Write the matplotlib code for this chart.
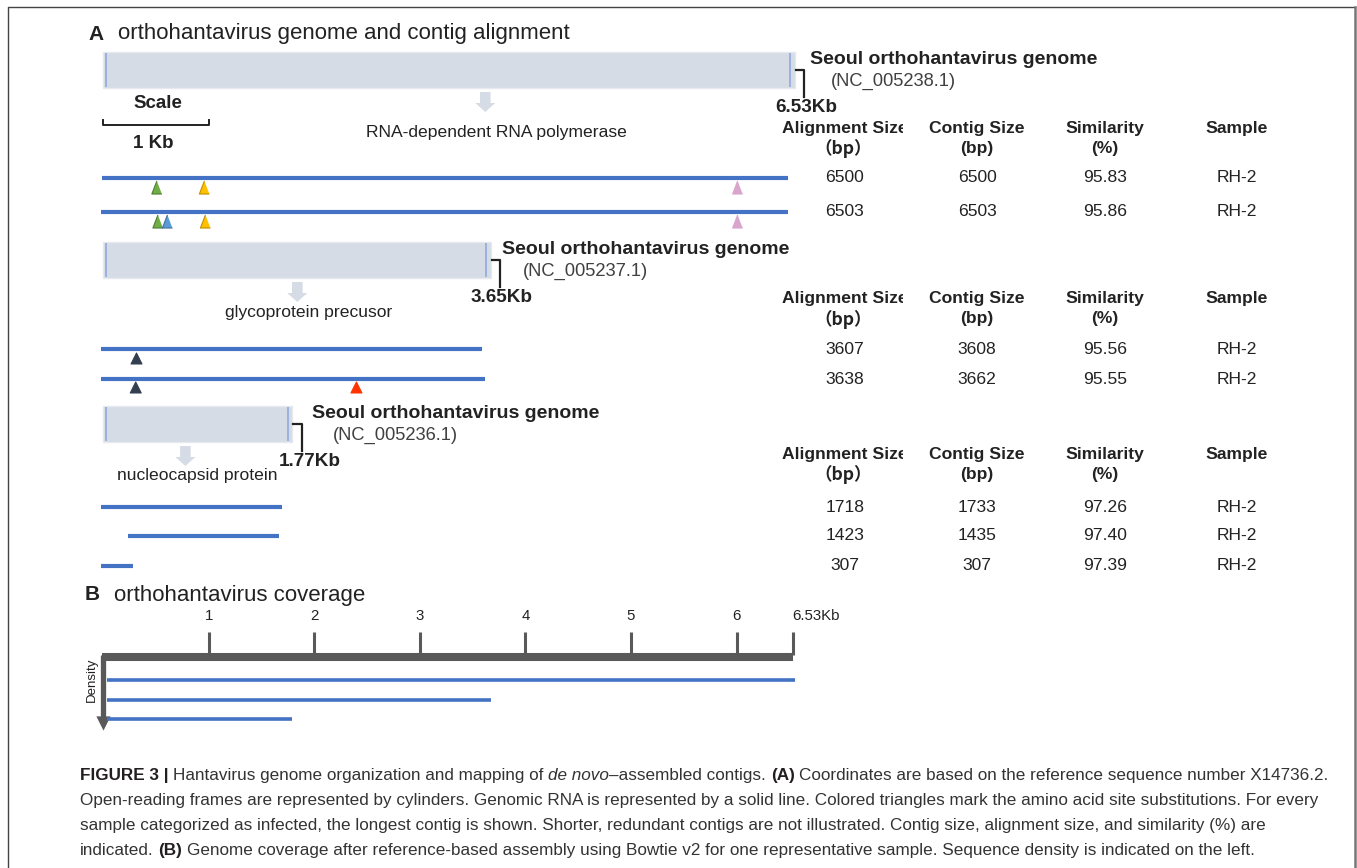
import matplotlib
matplotlib.use("Agg")
import matplotlib.pyplot as plt
from matplotlib.lines import Line2D

plt.rcParams['font.family'] = ['Liberation Sans', 'DejaVu Sans']

W, H = 1357, 868

# genome segments (L, M, S)
genome_kb = [6.53, 3.65, 1.77]
genome_names = ["Seoul orthohantavirus genome"] * 3
accessions = ["NC_005238.1", "NC_005237.1", "NC_005236.1"]
orf_names = ["RNA-dependent RNA polymerase", "glycoprotein precusor", "nucleocapsid protein"]
orf_arrow_kb = [3.62, 1.84, 0.78]

# contigs per segment
contig_start_kb = [[-0.01, -0.02], [-0.02, -0.02], [-0.02, 0.24, -0.02]]
align_size = [[6500, 6503], [3607, 3638], [1718, 1423, 307]]
contig_size = [[6500, 6503], [3608, 3662], [1733, 1435, 307]]
similarity = [[95.83, 95.86], [95.56, 95.55], [97.26, 97.40, 97.39]]
sample = [["RH-2", "RH-2"], ["RH-2", "RH-2"], ["RH-2", "RH-2", "RH-2"]]

# amino acid substitutions on each contig (kb position, colour key)
subst_kb = [[[0.51, 0.96, 6.01], [0.52, 0.61, 0.97, 6.01]],
            [[0.31], [0.31, 2.40]],
            [[], [], []]]
subst_key = [[["green", "yellow", "pink"], ["green", "blue", "yellow", "pink"]],
             [["dark"], ["dark", "red"]],
             [[], [], []]]

# coverage (panel B)
coverage_end_kb = [6.53, 3.65, 1.77]
coverage_ticks = [1, 2, 3, 4, 5, 6, 6.53]
coverage_tick_labels = ["1", "2", "3", "4", "5", "6", "6.53Kb"]

table_cols = ["Alignment Size", "Contig Size", "Similarity", "Sample"]
table_units = ["\uff08bp\uff09", "(bp)", "(%)", ""]

tri_face = {"green": "#70AD47", "yellow": "#FFC000", "pink": "#D9A5CD",
            "blue": "#5B9BD5", "dark": "#333F50", "red": "#FF3300"}
tri_edge = {"green": "#507E32", "yellow": "#C09000", "pink": "#D9A5CD",
            "blue": "#41719C", "dark": "#333F50", "red": "#FF3300"}

BLUE = "#4472C4"
GENOME_FILL = "#D6DCE5"
TXT = "#222222"

# layout (pixels, y from top)
X0, KPX = 103, 105.6
genome_y = [70, 260, 424]
contig_y = [[178, 212], [349, 379], [507, 536, 566]]
header_y = [128, 299, 454]
col_x = [845, 977, 1105, 1237]
title_left = [810, 502, 312]
kb_label_x = [806, 502, 310]
orf_label_y = [132, 312, 476]
tri_dy = [9.5, 8.5, 9]
tri_s = [88, 62, 62]

fig = plt.figure(figsize=(W / 100, H / 100), dpi=100)
ax = fig.add_axes([0, 0, 1, 1])
ax.set_xlim(-X0 / KPX, (W - X0) / KPX)
ax.set_ylim(H, 0)
ax.axis('off')


def put(x, y, s, **kw):
    kw.setdefault('ha', 'center')
    kw.setdefault('va', 'center')
    kw.setdefault('color', TXT)
    return fig.text(x / W, 1 - y / H, s, **kw)


# outer frame
fig.add_artist(Line2D([8 / W, 8 / W, 1355 / W], [0, 1 - 7 / H, 1 - 7 / H], color='#444444', lw=1))
fig.add_artist(Line2D([1355 / W, 1355 / W], [1 - 7 / H, 0], color='#777777', lw=1.8))

# panel A
put(88, 34, "A", ha='left', fontsize=15, weight='bold')
put(118, 34, "orthohantavirus genome and contig alignment", ha='left', fontsize=16)

# scale bar
put(158, 104, "Scale", fontsize=13.5, weight='bold')
ax.plot([0, 0, 1, 1], [120, 125, 125, 120], color=TXT, lw=1.4)
put(153, 144, "1 Kb", fontsize=13.5, weight='bold')

tri_marker = [(0, 0.65), (-0.5, -0.65), (0.5, -0.65)]

for i, L in enumerate(genome_kb):
    gy = genome_y[i]
    ax.barh(gy, L + 0.02, left=0, height=36, color=GENOME_FILL, edgecolor='#E6E9EF', lw=1)
    ax.vlines([0.03, L - 0.02], gy - 17, gy + 17, color='#8FAADC', lw=1.2)
    # bracket to the length label
    ax.plot([L + 0.03, L + 0.11, L + 0.11], [gy, gy, gy + 27], color=TXT, lw=1.6)
    put(kb_label_x[i], gy + 38, f"{L:.2f}Kb", fontsize=13.6, weight='bold')
    put(title_left[i], gy - 11, genome_names[i], ha='left', fontsize=14, weight='bold')
    put(title_left[i] + 21, gy + 11, f"({accessions[i]})", ha='left', fontsize=13.2, color='#404040')

    # ORF arrow + label
    ax.arrow(orf_arrow_kb[i], gy + 22, 0, 11, width=0.1, head_width=0.19, head_length=9,
             length_includes_head=False, color=GENOME_FILL, lw=0)
    put(X0 + (orf_arrow_kb[i] + 0.11) * KPX, orf_label_y[i], orf_names[i], fontsize=12.6)

    # table header
    hy = header_y[i]
    for j, c in enumerate(table_cols):
        t = put(col_x[j], hy, c, fontsize=12.6, weight='bold')
        if j == 0:
            clip = plt.Rectangle((0, 0), 903 / W, 1, transform=fig.transFigure, visible=False)
            fig.add_artist(clip)
            t.set_clip_path(clip)
        if j == 0:
            put(col_x[j] - 2, hy + 20, table_units[j], fontsize=12.6, weight='bold',
                family=['Noto Sans CJK SC', 'DejaVu Sans'])
        elif table_units[j]:
            put(col_x[j], hy + 20, table_units[j], fontsize=12.6, weight='bold')

    # contigs, substitutions and table rows
    for k, cy in enumerate(contig_y[i]):
        x0 = contig_start_kb[i][k]
        ax.hlines(cy, x0, x0 + align_size[i][k] / 1000, color=BLUE, lw=3)
        keys = subst_key[i][k]
        if keys:
            ax.scatter(subst_kb[i][k], [cy + tri_dy[i]] * len(keys),
                       marker=tri_marker if i == 0 else '^', s=tri_s[i],
                       c=[tri_face[q] for q in keys], edgecolors=[tri_edge[q] for q in keys],
                       linewidths=0.8, zorder=3)
        row = [str(align_size[i][k]), str(contig_size[i][k]), f"{similarity[i][k]:.2f}", sample[i][k]]
        for j, v in enumerate(row):
            put(col_x[j], cy, v, fontsize=12.6)

# panel B
put(85, 595, "B", ha='left', fontsize=15, weight='bold')
put(114, 595, "orthohantavirus coverage", ha='left', fontsize=16)

ax.hlines(657, -0.01, coverage_ticks[-1], color='#595959', lw=5.8)
ax.vlines(coverage_ticks, 632, 655, color='#595959', lw=2.2)
for tk, lab in zip(coverage_ticks, coverage_tick_labels):
    ax.text(tk, 616, lab, ha='center' if lab != "6.53Kb" else 'left', va='center',
            fontsize=10.8, color=TXT)
ax.vlines(0.0, 655, 718, color='#595959', lw=3.8)
ax.scatter([0.0], [723], marker='v', s=105, color='#595959', lw=0)
put(92, 680, "Density", rotation=90, fontsize=9.5)
for n, end in enumerate(coverage_end_kb):
    ax.hlines(680 + n * 19.5, 0.04, end + 0.02, color=BLUE, lw=2.6)

# caption
CAP = '#333333'
cap_size = 12.3
renderer = fig.canvas.get_renderer()
sp = 0.278 * cap_size * 100 / 72


def caption_line(y, runs, x=80):
    for s, weight, style in runs:
        lead = len(s) - len(s.lstrip(' '))
        trail = len(s) - len(s.rstrip(' '))
        x += lead * sp
        body = s.strip(' ')
        t = put(x, y, body, ha='left', va='baseline', fontsize=cap_size,
                weight=weight, style=style, color='#231F20' if weight == 'bold' else CAP)
        x += t.get_window_extent(renderer=renderer).width + trail * sp


N, B_, I_ = 'normal', 'bold', 'italic'
caption_line(780, [("FIGURE 3 | ", B_, N),
                   ("Hantavirus genome organization and mapping of ", N, N),
                   ("de novo", N, I_),
                   ("\u2013assembled contigs. ", N, N),
                   ("(A) ", B_, N),
                   ("Coordinates are based on the reference sequence number X14736.2.", N, N)])
caption_line(805, [("Open-reading frames are represented by cylinders. Genomic RNA is represented by a solid "
                    "line. Colored triangles mark the amino acid site substitutions. For every", N, N)])
caption_line(830, [("sample categorized as infected, the longest contig is shown. Shorter, redundant contigs "
                    "are not illustrated. Contig size, alignment size, and similarity (%) are", N, N)])
caption_line(855, [("indicated. ", N, N), ("(B) ", B_, N),
                   ("Genome coverage after reference-based assembly using Bowtie v2 for one representative "
                    "sample. Sequence density is indicated on the left.", N, N)])

fig.savefig("out.png", dpi=100)
